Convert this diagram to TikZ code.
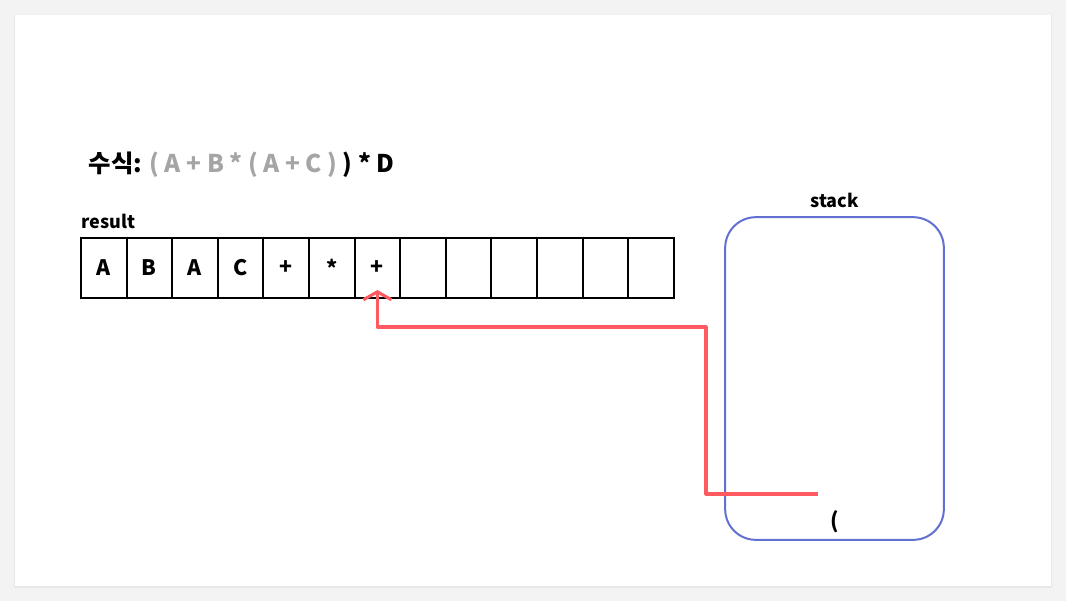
\documentclass[tikz,border=0pt]{standalone}
\usepackage{fontspec}
\setmainfont{Noto Sans CJK KR}
\usepackage{xcolor}
\usetikzlibrary{positioning,arrows.meta}

\definecolor{pagegray}{HTML}{F3F3F3}
\definecolor{stackblue}{HTML}{6270D2}
\definecolor{popred}{HTML}{FF5A5F}
\definecolor{donegray}{HTML}{A5A5A5}

\begin{document}
\begin{tikzpicture}[
    x=0.75pt,y=-0.75pt,
    node distance=0pt,
    cell/.style={draw,line width=1.4pt,outer sep=0pt,inner sep=0pt,minimum width=34.2pt,minimum height=45pt,font=\bfseries\fontsize{16}{19}\selectfont},
    lbl/.style={font=\bfseries\fontsize{13.5}{16}\selectfont},
    popline/.style={draw=popred,line width=2.3pt,line join=round,-{Straight Barb[length=6pt,width=21pt]}}
  ]
    \useasboundingbox (0,0) rectangle (1066,601);
    % page and card
    \fill[pagegray] (0,0) rectangle (1066,601);
    \fill[black!5] (12,13) rectangle (1054,590);
    \fill[black!9] (14,15) rectangle (1052,588);
    \fill[white] (15,15) rectangle (1051,586);
    % expression
    \node[anchor=base west,font=\bfseries\fontsize{18.3}{21}\selectfont] (expr) at (84,172)
      {수식: \textcolor{donegray}{( A + B * ( A + C )} ) * D};
    % result array
    \node[cell] (c1) at (103.8,268) {A};
    \foreach \sym [count=\i from 2] in {B,A,C,+,*,+,{},{},{},{},{},{}} {
      \pgfmathtruncatemacro\j{\i-1}
      \node[cell,right=of c\j] (c\i) {\sym};
    }
    \node[lbl,anchor=base west] (result) at (77,228) {result};
    % stack
    \node[draw=stackblue,line width=1.5pt,rounded corners=23pt,minimum width=164pt,minimum height=242pt] (stack) at (834.5,378.5) {};
    \node[lbl,above=3pt of stack] (stacklbl) {stack};
    \node[font=\bfseries\fontsize{16}{19}\selectfont] (paren) at (835,522) {(};
    % pop to result
    \coordinate (pop) at (818,494);
    \coordinate (bend) at (706,327);
    \draw[popline] (pop) -| (bend) -| ([yshift=6pt]c7.south);
  \end{tikzpicture}
\end{document}
